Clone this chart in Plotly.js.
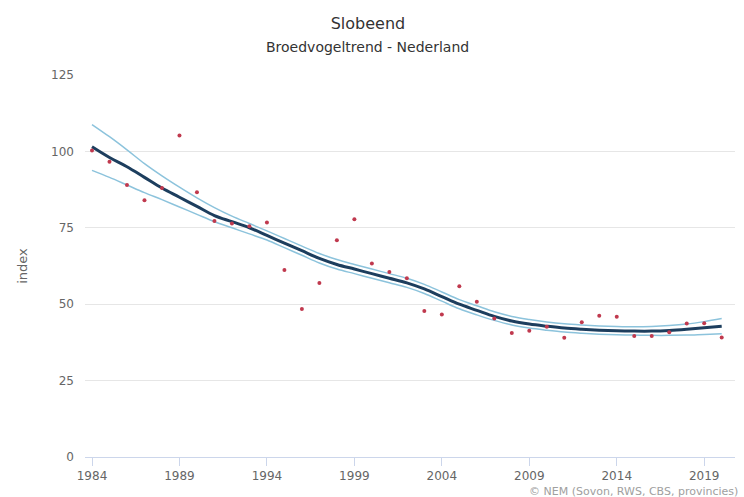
<!DOCTYPE html>
<html>
<head>
<meta charset="utf-8">
<script src="https://cdn.plot.ly/plotly-3.0.1.min.js"></script>
<style>
html,body{margin:0;padding:0;background:#fff;}
#chart{width:744px;height:497px;}
</style>
</head>
<body>
<div id="chart"></div>
<script>
var years = [1984,1985,1986,1987,1988,1989,1990,1991,1992,1993,1994,1995,1996,1997,1998,1999,2000,2001,2002,2003,2004,2005,2006,2007,2008,2009,2010,2011,2012,2013,2014,2015,2016,2017,2018,2019,2020];
var indexValues = [100.3,96.6,89.0,84.0,88.0,105.2,86.6,77.2,76.4,75.5,76.7,61.2,48.4,56.9,70.9,77.8,63.3,60.5,58.5,47.8,46.6,55.9,50.8,45.3,40.6,41.3,42.6,39.0,44.1,46.2,45.9,39.6,39.6,40.8,43.7,43.8,39.1];
var trend = [101.5,98,95,91.5,88,85,82,79,77,75,72.5,70,67.5,65,63,61.5,60,58.5,57,55,52.5,50,48,46,44.5,43.5,42.8,42.2,41.8,41.5,41.3,41.2,41.2,41.4,41.8,42.3,42.8];
var upper = [108.8,104.8,100.5,96,92,88.3,84.8,81.6,78.8,76.4,74,71.5,69,66.6,64.6,63,61.5,60,58.5,56.5,54,51.5,49.5,47.5,46,45,44.2,43.6,43.2,42.9,42.7,42.6,42.7,43,43.5,44.3,45.3];
var lower = [93.8,91.5,89,86.5,84.2,81.8,79.4,77,75,73,71,68.5,66,63.5,61.5,60,58.5,57,55.5,53.5,51,48.5,46.5,44.7,43.2,42.2,41.5,40.9,40.5,40.2,40,39.9,39.8,39.8,39.9,40.1,40.3];
var tickYears = [1984,1989,1994,1999,2004,2009,2014,2019];
var yTicks = [0,25,50,75,100,125];

var font = "DejaVu Sans, Liberation Sans, Arial, sans-serif";

var traces = [
  {x: years, y: upper, type: 'scatter', mode: 'lines', line: {color: '#8cc3dc', width: 1.5, shape: 'spline'}, hoverinfo: 'skip'},
  {x: years, y: lower, type: 'scatter', mode: 'lines', line: {color: '#8cc3dc', width: 1.5, shape: 'spline'}, hoverinfo: 'skip'},
  {x: years, y: trend, type: 'scatter', mode: 'lines', line: {color: '#1d3e5e', width: 3, shape: 'spline'}},
  {x: years, y: indexValues, type: 'scatter', mode: 'markers', marker: {color: '#c0394e', size: 4}}
];

var layout = {
  width: 744, height: 497,
  paper_bgcolor: '#fff', plot_bgcolor: '#fff',
  margin: {l: 85, r: 9, t: 75, b: 40},
  showlegend: false,
  font: {family: font, color: '#666', size: 12},
  title: {text: 'Slobeend', x: 0.4946, xref: 'container', xanchor: 'center', y: 0.953, yanchor: 'middle', yref: 'container', font: {family: font, size: 16, color: '#333'}},
  xaxis: {
    range: [1983.6, 2020.76], tickvals: tickYears, ticktext: tickYears.map(String),
    showgrid: false, zeroline: false, showline: true, linecolor: '#ccd6eb', linewidth: 1,
    ticks: 'outside', ticklen: 8, tickcolor: '#ccd6eb',
    tickfont: {family: font, size: 12, color: '#666'}
  },
  yaxis: {
    range: [0, 125], tickvals: yTicks, ticktext: yTicks.map(String),
    showgrid: true, gridcolor: '#e6e6e6', zeroline: false, showline: false,
    ticks: '', ticklabelstandoff: 10,
    tickfont: {family: font, size: 12, color: '#666'},
    title: {text: 'index', font: {family: font, size: 13, color: '#666'}, standoff: 20}
  },
  annotations: [
    {text: 'Broedvogeltrend - Nederland', xref: 'paper', yref: 'paper', x: 0.435, y: 1, yshift: 28, xanchor: 'center', yanchor: 'middle', showarrow: false, font: {family: font, size: 14, color: '#333'}},
    {text: '© NEM (Sovon, RWS, CBS, provincies)', xref: 'paper', yref: 'paper', x: 1, y: 0, xshift: 5, yshift: -34, xanchor: 'right', yanchor: 'middle', showarrow: false, font: {family: font, size: 11, color: '#a0a0a0'}}
  ]
};

Plotly.newPlot('chart', traces, layout, {displayModeBar: false, staticPlot: true});
</script>
</body>
</html>
